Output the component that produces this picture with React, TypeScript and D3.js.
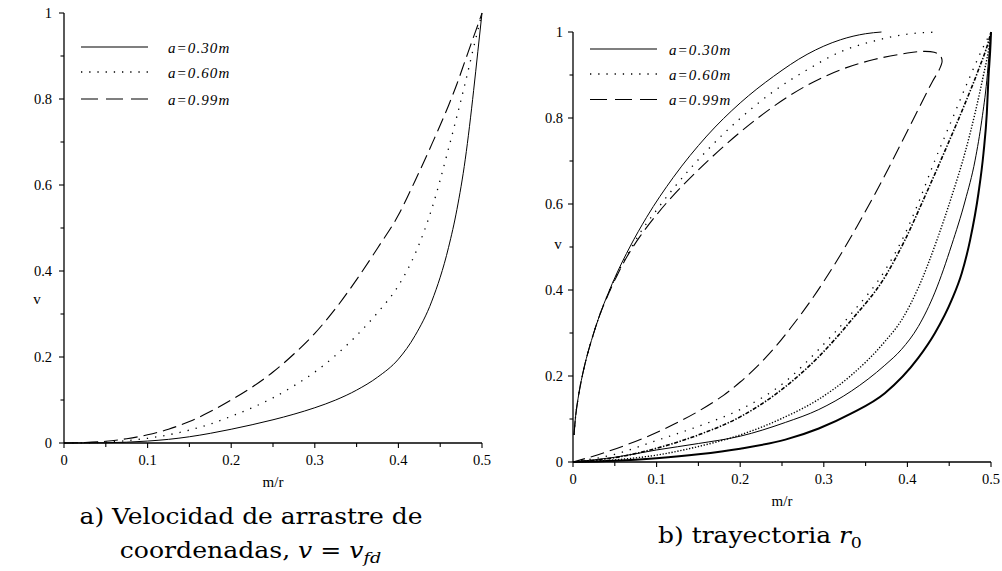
import React from "react";
import * as d3 from "d3";

// ---------- panel a: coordinate-drag velocity v = v_fd against m/r ----------
const dragMr = [
  0, 0.025, 0.05, 0.075, 0.1, 0.125, 0.15, 0.175, 0.2, 0.225, 0.25, 0.275, 0.3, 0.325, 0.35, 0.375,
  0.4, 0.42, 0.44, 0.46, 0.47, 0.48, 0.49, 0.495, 0.5,
];
const dragA030 = [
  0, 0.0001, 0.0006, 0.0019, 0.0045, 0.0085, 0.0145, 0.0225, 0.032, 0.0425, 0.054, 0.067, 0.082, 0.1,
  0.123, 0.153, 0.195, 0.25, 0.33, 0.455, 0.543, 0.66, 0.82, 0.91, 1.0,
];
const dragA060 = [
  0, 0.0004, 0.002, 0.0055, 0.011, 0.019, 0.03, 0.044, 0.062, 0.082, 0.105, 0.133, 0.165, 0.204,
  0.25, 0.303, 0.366, 0.44, 0.545, 0.685, 0.76, 0.838, 0.92, 0.96, 1.0,
];
const dragA099 = [
  0, 0.001, 0.004, 0.01, 0.019, 0.032, 0.05, 0.073, 0.1, 0.13, 0.165, 0.207, 0.255, 0.313,
  0.38, 0.453, 0.53, 0.61, 0.695, 0.785, 0.835, 0.89, 0.945, 0.972, 1.0,
];

// ---------- panel b: velocity along the r0 trajectory, [m/r, v] ----------
const upperA030: [number, number][] = [
  [0.0012, 0.063], [0.003, 0.104], [0.006, 0.147], [0.01, 0.19], [0.016, 0.241], [0.024, 0.295],
  [0.032, 0.342], [0.042, 0.392], [0.052, 0.437], [0.068, 0.5], [0.088, 0.569], [0.12, 0.662],
  [0.16, 0.758], [0.2, 0.835], [0.24, 0.897], [0.28, 0.948], [0.32, 0.982], [0.35, 0.996], [0.369, 1.0],
];
const upperA060: [number, number][] = [
  [0.0012, 0.063], [0.003, 0.104], [0.006, 0.147], [0.01, 0.19], [0.016, 0.241], [0.024, 0.295],
  [0.032, 0.342], [0.042, 0.391], [0.052, 0.434], [0.065, 0.482], [0.08, 0.532], [0.1, 0.586],
  [0.12, 0.636], [0.16, 0.724], [0.2, 0.799], [0.24, 0.862], [0.28, 0.912], [0.32, 0.954],
  [0.36, 0.979], [0.4, 0.995], [0.437, 1.0],
];
const loopA099: [number, number][] = [
  [0.0012, 0.063], [0.003, 0.104], [0.006, 0.147], [0.01, 0.19], [0.016, 0.241], [0.024, 0.295],
  [0.032, 0.342], [0.042, 0.389], [0.052, 0.431], [0.065, 0.479], [0.08, 0.524], [0.1, 0.575],
  [0.12, 0.62], [0.16, 0.698], [0.2, 0.767], [0.24, 0.827], [0.28, 0.876], [0.32, 0.912],
  [0.36, 0.936], [0.4, 0.951], [0.42, 0.955], [0.432, 0.953], [0.439, 0.946], [0.4415, 0.932],
  [0.438, 0.912], [0.43, 0.885], [0.42, 0.847], [0.4, 0.77], [0.38, 0.693], [0.36, 0.619],
  [0.34, 0.549], [0.32, 0.482], [0.3, 0.42], [0.28, 0.363], [0.26, 0.311], [0.24, 0.263],
  [0.22, 0.222], [0.2, 0.186], [0.18, 0.155], [0.15, 0.118], [0.12, 0.087], [0.09, 0.06],
  [0.06, 0.037], [0.03, 0.017], [0, 0],
];
const fanDottedA060: [number, number][] = [
  [0, 0], [0.05, 0.018], [0.1, 0.05], [0.15, 0.083], [0.2, 0.122], [0.254, 0.187], [0.294, 0.262],
  [0.333, 0.345], [0.373, 0.445], [0.397, 0.53], [0.413, 0.602], [0.433, 0.702], [0.453, 0.795],
  [0.473, 0.888], [0.489, 0.958], [0.5, 1.0],
];
const fanDashedA099: [number, number][] = [
  [0, 0], [0.05, 0.01], [0.1, 0.032], [0.15, 0.063], [0.2, 0.105], [0.254, 0.175], [0.294, 0.245],
  [0.333, 0.33], [0.373, 0.43], [0.397, 0.516], [0.421, 0.618], [0.445, 0.724], [0.469, 0.834],
  [0.485, 0.912], [0.497, 0.978], [0.5, 1.0],
];
const fanDenseDotted: [number, number][] = [
  [0, 0], [0.05, 0.005], [0.1, 0.016], [0.15, 0.036], [0.2, 0.063], [0.254, 0.105], [0.294, 0.146],
  [0.333, 0.202], [0.373, 0.28], [0.393, 0.33], [0.413, 0.405], [0.436, 0.52], [0.453, 0.618],
  [0.469, 0.72], [0.481, 0.812], [0.491, 0.9], [0.497, 0.958], [0.5, 1.0],
];
const fanSolidThin: [number, number][] = [
  [0, 0], [0.05, 0.011], [0.1, 0.028], [0.15, 0.043], [0.2, 0.06], [0.254, 0.092], [0.294, 0.122],
  [0.333, 0.165], [0.373, 0.225], [0.393, 0.262], [0.413, 0.315], [0.433, 0.395], [0.453, 0.505],
  [0.469, 0.607], [0.481, 0.702], [0.489, 0.795], [0.495, 0.888], [0.498, 0.955], [0.5, 1.0],
];
const fanSolidThick: [number, number][] = [
  [0, 0], [0.05, 0.003], [0.1, 0.009], [0.15, 0.018], [0.2, 0.031], [0.254, 0.052], [0.294, 0.078],
  [0.333, 0.113], [0.373, 0.16], [0.413, 0.242], [0.433, 0.3], [0.453, 0.377], [0.465, 0.439],
  [0.475, 0.516], [0.485, 0.625], [0.491, 0.718], [0.495, 0.811], [0.497, 0.895], [0.4995, 0.975], [0.5, 1.0],
];

const legendLabels = ["a=0.30m", "a=0.60m", "a=0.99m"];
const xTickValues = [0, 0.1, 0.2, 0.3, 0.4, 0.5];
const xMinorValues = [0.05, 0.15, 0.25, 0.35, 0.45];
const yTickValues = [0, 0.2, 0.4, 0.6, 0.8, 1];
const yMinorValues = [0.1, 0.3, 0.5, 0.7, 0.9];

type Style = { dash?: string; width: number };
const STYLE: Record<string, Style> = {
  solid: { width: 1 },
  dotted: { dash: "1.3,7", width: 1.3 },
  dashed: { dash: "14,6", width: 1.1 },
  dashDot: { dash: "4,1.6,1.4,1.6", width: 1.6 },
  denseDotted: { dash: "1.3,1.7", width: 1.4 },
  thick: { width: 2 },
};
const LEGEND_STYLE: Style[] = [
  { width: 1.1 },
  { dash: "1.3,6.9", width: 1.3 },
  { dash: "17,8", width: 1.1 },
];

const SERIF = "'Liberation Serif', 'Times New Roman', serif";
const CAPTION_FONT = "'DejaVu Serif', serif";

type Curve = { pts: [number, number][]; style: string; smooth: "mono" | "cr" };

type PanelProps = {
  x0: number; x1: number; y0: number; y1: number;
  curves: Curve[];
  legendX: number; legendTextX: number; legendYs: number[];
  tickGap: number; vLabel: [number, number];
};

function Panel({ x0, x1, y0, y1, curves, legendX, legendTextX, legendYs, tickGap, vLabel }: PanelProps) {
  const x = d3.scaleLinear().domain([0, 0.5]).range([x0, x1]);
  const y = d3.scaleLinear().domain([0, 1]).range([y0, y1]);
  const fmt = (v: number) => String(v);
  return (
    <g>
      {curves.map((c, i) => {
        const line = d3
          .line<[number, number]>()
          .x((d) => x(d[0]))
          .y((d) => y(d[1]))
          .curve(c.smooth === "mono" ? d3.curveMonotoneX : d3.curveCatmullRom.alpha(0.5));
        const s = STYLE[c.style];
        return (
          <path key={i} d={line(c.pts) || ""} fill="none" stroke="#000"
            strokeWidth={s.width} strokeDasharray={s.dash} />
        );
      })}
      {/* axes */}
      <line x1={x0} x2={x0} y1={y0} y2={y1} stroke="#000" strokeWidth={1.3} />
      <line x1={x0} x2={x1} y1={y0} y2={y0} stroke="#000" strokeWidth={1.3} />
      {xTickValues.map((t) => (
        <g key={"xt" + t}>
          <line x1={x(t)} x2={x(t)} y1={y0} y2={y0 + 5} stroke="#000" strokeWidth={1.1} />
          <text x={x(t)} y={y0 + 22} textAnchor="middle" fontFamily={SERIF} fontSize={14.5}>{fmt(t)}</text>
        </g>
      ))}
      {xMinorValues.map((t) => (
        <line key={"xm" + t} x1={x(t)} x2={x(t)} y1={y0} y2={y0 + 4} stroke="#000" strokeWidth={1.1} />
      ))}
      {yTickValues.map((t) => (
        <g key={"yt" + t}>
          <line x1={x0 - 5} x2={x0} y1={y(t)} y2={y(t)} stroke="#000" strokeWidth={1.1} />
          <text x={x0 - tickGap} y={y(t) + 4.5} textAnchor="end" fontFamily={SERIF} fontSize={14.5}>{fmt(t)}</text>
        </g>
      ))}
      {yMinorValues.map((t) => (
        <line key={"ym" + t} x1={x0 - 3.5} x2={x0} y1={y(t)} y2={y(t)} stroke="#000" strokeWidth={1.1} />
      ))}
      <text x={(x0 + x1) / 2} y={y0 + 44} textAnchor="middle" fontFamily={SERIF} fontSize={15}>m/r</text>
      <text x={vLabel[0]} y={vLabel[1]} textAnchor="middle" fontFamily={SERIF} fontSize={15}>v</text>
      {/* legend */}
      {legendLabels.map((lab, i) => (
        <g key={lab}>
          <line x1={legendX} x2={legendX + 67} y1={legendYs[i]} y2={legendYs[i]} stroke="#000"
            strokeWidth={LEGEND_STYLE[i].width} strokeDasharray={LEGEND_STYLE[i].dash} />
          <text x={legendTextX} y={legendYs[i] + 5.5} fontFamily={SERIF} fontStyle="italic"
            fontSize={15} letterSpacing={1.1}>{lab}</text>
        </g>
      ))}
    </g>
  );
}

export default function App() {
  const leftCurves: Curve[] = [
    { pts: dragMr.map((m, i) => [m, dragA030[i]] as [number, number]), style: "solid", smooth: "mono" },
    { pts: dragMr.map((m, i) => [m, dragA060[i]] as [number, number]), style: "dotted", smooth: "mono" },
    { pts: dragMr.map((m, i) => [m, dragA099[i]] as [number, number]), style: "dashed", smooth: "mono" },
  ];
  const rightCurves: Curve[] = [
    { pts: upperA030, style: "solid", smooth: "mono" },
    { pts: upperA060, style: "dotted", smooth: "mono" },
    { pts: loopA099, style: "dashed", smooth: "cr" },
    { pts: fanDottedA060, style: "dotted", smooth: "mono" },
    { pts: fanDashedA099, style: "dashDot", smooth: "mono" },
    { pts: fanDenseDotted, style: "denseDotted", smooth: "mono" },
    { pts: fanSolidThin, style: "solid", smooth: "mono" },
    { pts: fanSolidThick, style: "thick", smooth: "mono" },
  ];
  return (
    <svg width={1002} height={571} style={{ position: "absolute", left: 0, top: 0, background: "#fff" }}>
      <rect width={1002} height={571} fill="#fff" />
      <Panel x0={64} x1={482} y0={443} y1={13} curves={leftCurves}
        legendX={81} legendTextX={168} legendYs={[47, 72, 99]} tickGap={12} vLabel={[37, 304]} />
      <Panel x0={573} x1={991} y0={462} y1={32} curves={rightCurves}
        legendX={590} legendTextX={669} legendYs={[49, 74, 99.5]} tickGap={10} vLabel={[558, 249]} />
      {/* captions */}
      <g transform="translate(251,524) scale(1.16,1)">
        <text textAnchor="middle" fontFamily={CAPTION_FONT} fontSize={21.5}>a) Velocidad de arrastre de</text>
      </g>
      <g transform="translate(250.5,558) scale(1.17,1)">
        <text textAnchor="middle" fontFamily={CAPTION_FONT} fontSize={21.5}>
          coordenadas, <tspan fontStyle="italic">v</tspan> = <tspan fontStyle="italic">v</tspan>
          <tspan fontStyle="italic" fontSize={15} dy={5}>fd</tspan>
        </text>
      </g>
      <g transform="translate(760,543) scale(1.16,1)">
        <text textAnchor="middle" fontFamily={CAPTION_FONT} fontSize={21.5}>
          b) trayectoria <tspan fontStyle="italic">r</tspan>
          <tspan fontSize={15} dy={5}>0</tspan>
        </text>
      </g>
    </svg>
  );
}
